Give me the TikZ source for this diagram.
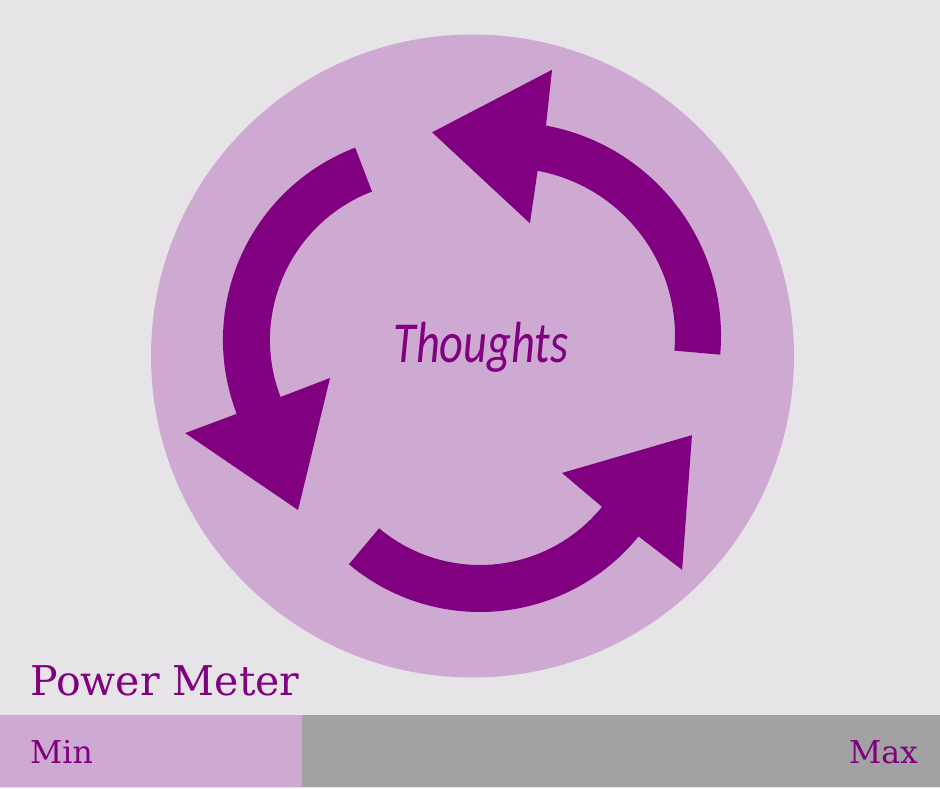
\documentclass[tikz,border=0pt]{standalone}
\usepackage{fontspec}
\usepackage{tikz}
\usetikzlibrary{positioning}
\newfontfamily\meterfont{DejaVu Serif}
\newfontfamily\handfont{Carlito}
\definecolor{bggrey}{HTML}{E6E4E7}
\definecolor{lilac}{HTML}{CEAAD2}
\definecolor{plum}{HTML}{800080}
\definecolor{bargrey}{HTML}{A2A2A2}

\begin{document}
\begin{tikzpicture}[x=1pt, y=1pt, every node/.style={inner sep=0pt, text=plum}, swirl/.style={fill=plum}]
        \useasboundingbox (0,0) rectangle (940,788);
        \fill[bggrey] (0,0) rectangle (940,788);
        \fill[lilac] (472.5,432) circle[radius=321.5];
        % Three curved arrows
        \begin{scope}[shift={(507,452)}]
            \fill[swirl] (-5:214) arc[start angle=-5, end angle=79.5, radius=214] -- (80.4:270) -- (110.2:217) -- (78.5:115) -- (79.5:168) arc[start angle=79.5, end angle=-5, radius=168] -- cycle;
        \end{scope}
        \begin{scope}[shift={(429,448)}]
            \fill[swirl] (111:206) arc[start angle=111, end angle=201, radius=206] -- (200.9:261) -- (232.4:214.6) -- (201:106) -- (201:159) arc[start angle=201, end angle=111, radius=159] -- cycle;
        \end{scope}
        \begin{scope}[shift={(480,380)}]
            \fill[swirl] (230:204) arc[start angle=230, end angle=321, radius=204] -- (321.3:259) -- (352.7:213.7) -- (321.6:104.6) -- (321:157) arc[start angle=321, end angle=230, radius=157] -- cycle;
        \end{scope}
        \node[font=\handfont\itshape\fontsize{58}{58}\selectfont, anchor=base] (thoughts) at (481,425) {\scalebox{0.8}[1]{Thoughts}};
        % Power meter bar
        \fill[lilac] (0,1) rectangle (302,73);
        \fill[bargrey] (302,1) rectangle (940,73);
        \node[font=\meterfont\fontsize{41}{41}\selectfont, anchor=base west] (meter) at (30,93) {Power Meter};
        \node[font=\meterfont\fontsize{31.5}{31.5}\selectfont, anchor=base west] (minlabel) at (30,25) {Min};
        \node[font=\meterfont\fontsize{31.5}{31.5}\selectfont, anchor=base east] (maxlabel) at (918,25) {Max};
    \end{tikzpicture}
\end{document}
